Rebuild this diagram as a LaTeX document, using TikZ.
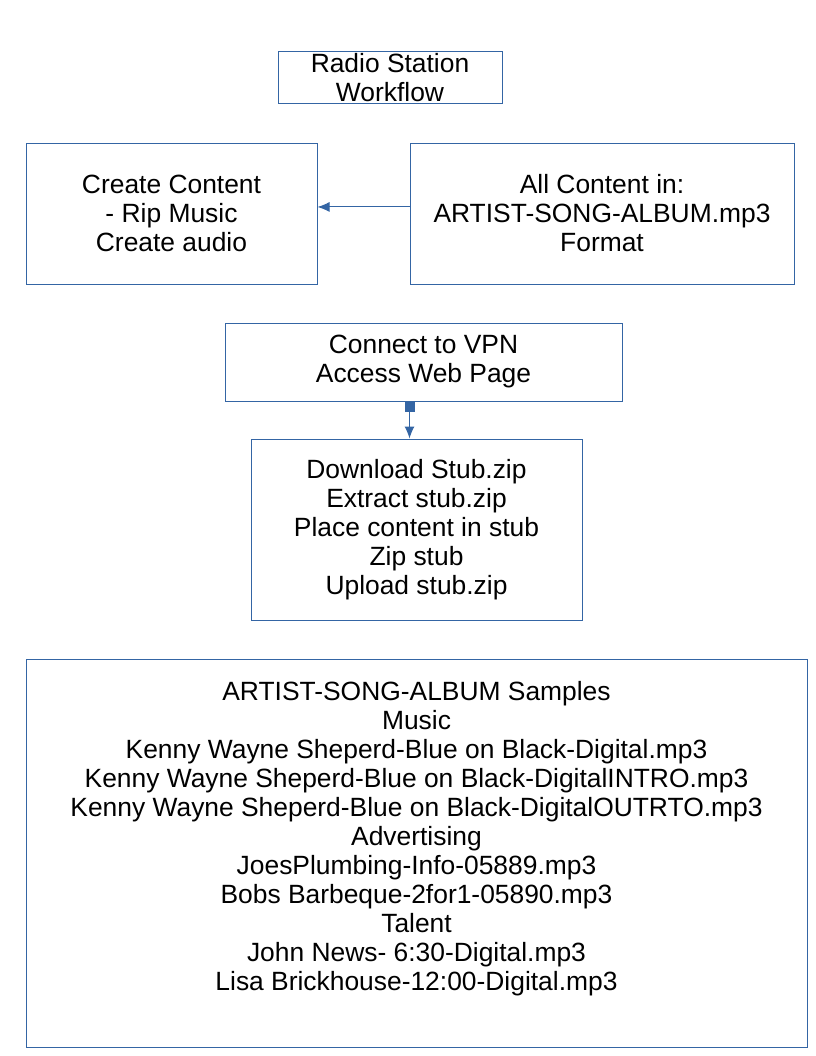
\documentclass[tikz,border=0pt]{standalone}
\usepackage{fontspec}
\setmainfont{Liberation Sans}
\usetikzlibrary{arrows.meta}
\definecolor{boxblue}{HTML}{3465A4}
\tikzset{
  flowbox/.style={draw=boxblue, line width=0.75pt, inner sep=0pt, align=center,
    font=\fontsize{19.8}{21.75}\selectfont},
  flowarrow/.style={draw=boxblue, line width=0.75pt, -{Latex[length=9pt,width=7.5pt]}}
}
\begin{document}
\begin{tikzpicture}[x=0.75pt, y=-0.75pt]
    \useasboundingbox (0,0) rectangle (816,1056);
    \node[flowbox, minimum width=168pt, minimum height=38.25pt] (title) at (390,77.5) {Radio Station\\Workflow};
    \node[flowbox, minimum width=218.25pt, minimum height=105.75pt] (create) at (171.5,213.5) {Create Content\\- Rip Music\\Create audio};
    \node[flowbox, minimum width=288pt, minimum height=105.75pt] (allc) at (602,213.5) {All Content in:\\ARTIST-SONG-ALBUM.mp3\\Format};
    \node[flowbox, minimum width=297.75pt, minimum height=58.5pt] (vpn) at (423.5,362) {Connect to VPN\\Access Web Page};
    \node[flowbox, minimum width=248.25pt, minimum height=135.75pt] (dl) at (416.5,529.5) {Download Stub.zip\\Extract stub.zip\\Place content in stub\\Zip stub\\Upload stub.zip};
    \draw[boxblue, line width=0.75pt] (26,659) rectangle (807,1047);
    \node[flowbox, draw=none, anchor=north] (samples) at (416.5,681) {ARTIST-SONG-ALBUM Samples\\Music\\
      Kenny Wayne Sheperd-Blue on Black-Digital.mp3\\
      Kenny Wayne Sheperd-Blue on Black-DigitalINTRO.mp3\\
      Kenny Wayne Sheperd-Blue on Black-DigitalOUTRTO.mp3\\
      Advertising\\JoesPlumbing-Info-05889.mp3\\Bobs Barbeque-2for1-05890.mp3\\
      Talent\\John News- 6:30-Digital.mp3\\Lisa Brickhouse-12:00-Digital.mp3};
    \draw[flowarrow] ([yshift=4.9pt]allc.west) -- ([yshift=4.9pt]create.east);
    \draw[flowarrow, {Square[length=7.5pt,width=7.5pt]}-{Latex[length=9pt,width=7.5pt]}] ([xshift=-10.5pt]vpn.south) -- ([xshift=-10.5pt]vpn.south |- dl.north);
\end{tikzpicture}
\end{document}
